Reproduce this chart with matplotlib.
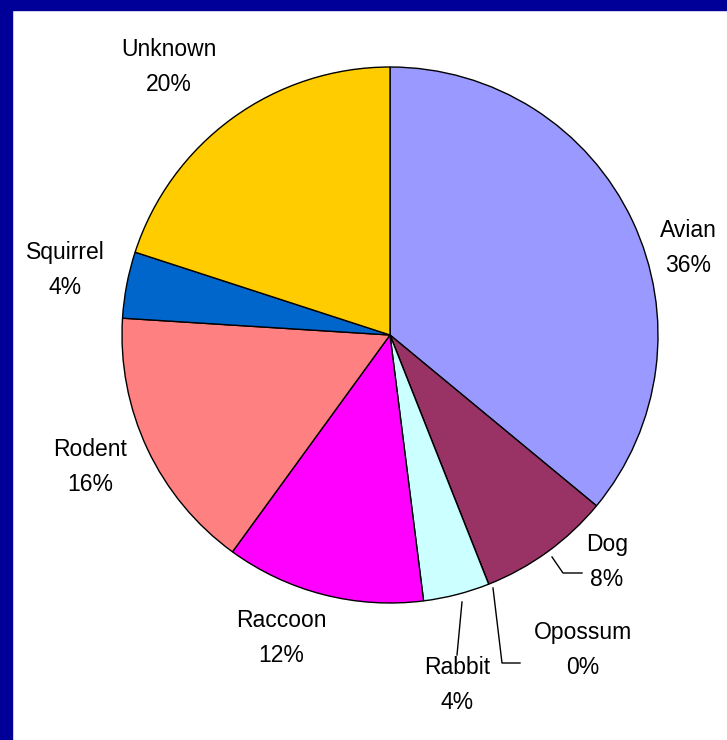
import matplotlib
matplotlib.use("Agg")
import matplotlib.pyplot as plt
from matplotlib.patches import Rectangle

categories = ["Avian", "Dog", "Opossum", "Rabbit", "Raccoon", "Rodent", "Squirrel", "Unknown"]
values = [36, 8, 0, 4, 12, 16, 4, 20]
pct_labels = ["36%", "8%", "0%", "4%", "12%", "16%", "4%", "20%"]
colors = ["#9999FF", "#993366", "#FFFFCC", "#CCFFFF", "#FF00FF", "#FF8080", "#0066CC", "#FFCC00"]

W, H = 727, 740
fig = plt.figure(figsize=(W / 100, H / 100), dpi=100)
fig.patch.set_facecolor("white")
ax = fig.add_axes([0, 0, 1, 1])

# navy border on top and left
ax.add_patch(Rectangle((0, 0), 12, H, color="#000099", zorder=0))
ax.add_patch(Rectangle((0, H - 10), W, 10, color="#000099", zorder=0))

cx, cy, r = 390, H - 335, 268
ax.pie(values, colors=colors, startangle=90, counterclock=False,
       center=(cx, cy), radius=r,
       wedgeprops=dict(edgecolor="black", linewidth=1.0), frame=True)
ax.set_xlim(0, W)
ax.set_ylim(0, H)
ax.set_aspect("equal")
ax.axis("off")

# label positions in pixel coords (x, y from top)
label_pos = {
    "Avian": (688, 248),
    "Dog": (607, 562),
    "Opossum": (583, 650),
    "Rabbit": (457, 685),
    "Raccoon": (281, 638),
    "Rodent": (90, 467),
    "Squirrel": (65, 270),
    "Unknown": (169, 67),
}
for cat, pct in zip(categories, pct_labels):
    x, y = label_pos[cat]
    ax.text(x, H - y, f"{cat}\n{pct}", ha="center", va="center",
            fontsize=16.5, family="Liberation Sans", linespacing=1.65, color="black")

# leader lines
leaders = {
    "Dog": [(552, 557), (563, 573), (582, 573)],
    "Opossum": [(493, 588), (502, 663), (520, 663)],
    "Rabbit": [(462, 602), (457, 655)],
}
for pts in leaders.values():
    xs = [p[0] for p in pts]
    ys = [H - p[1] for p in pts]
    ax.plot(xs, ys, color="black", linewidth=1.0)

fig.savefig("out.png", dpi=100, facecolor="white")
